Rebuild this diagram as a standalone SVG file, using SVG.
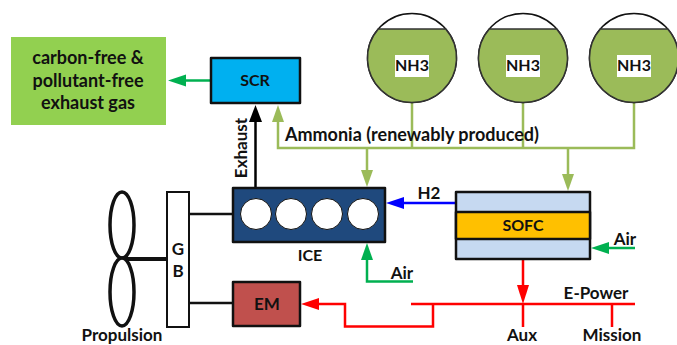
<svg xmlns="http://www.w3.org/2000/svg" width="677" height="345" viewBox="0 0 677 345">
<style>
text{font-family:Lato,"Open Sans","Liberation Sans",sans-serif;font-weight:700;fill:#111;font-size:17px;text-anchor:middle}
.lg{font-size:18px}
.sm{font-size:16px}
.b{stroke:#111;stroke-width:2.5;stroke-linejoin:round}
.c{fill:none;stroke-width:2.5}
.t{fill:#fff;stroke:#111;stroke-width:1.500}
.l{fill:#9BBB59;stroke:#333;stroke-width:1.500}
.ol{stroke:#9BBB59}.gr{stroke:#00B050}.rd{stroke:#FF0000}.bl{stroke:#0000FF}.k{stroke:#000}
</style>
<rect width="677" height="345" fill="#fff"/>
<g id="connectors">
<path class="c ol" d="M278 120V148H634V103M412 103V148M523 103V148M367 148V172M568 148V175"/>
<polygon points="278,105 272,122 284,122" fill="#9BBB59"/>
<polygon points="367,187 361,170 373,170" fill="#9BBB59"/>
<polygon points="568,191 562,174 574,174" fill="#9BBB59"/>
<path class="c gr" d="M211 80.500H182"/>
<polygon points="168,80.500 186,74.500 186,86.500" fill="#00B050"/>
<path class="c k" d="M255.500 188V120"/>
<polygon points="255.500,105 249,122 262,122" fill="#000"/>
<path class="c bl" d="M456 203H400"/>
<polygon points="386,203 404,197 404,209" fill="#0000FF"/>
<path class="c gr" d="M635 248H605"/>
<polygon points="591,248 609,242 609,254" fill="#00B050"/>
<path class="c gr" d="M367 258V281.500H413"/>
<polygon points="367,243 361,260 373,260" fill="#00B050"/>
<path class="c rd" d="M523 259V290M411 304H635M523 304V327M612 304V327M433 304V326.500H345V304H315"/>
<polygon points="523,304 517,285 529,285" fill="#FF0000"/>
<polygon points="301,304 319,298 319,310" fill="#FF0000"/>
<path class="c" stroke="#111" d="M189 214H233M189 303H233"/>
<path class="c" stroke="#111" style="stroke-width:4" d="M122 259H167"/>
</g>
<g id="exhaust-gas"><rect x="11" y="37" width="155" height="88" fill="#92D050"/><text class="lg" x="88" y="64">carbon-free &amp;</text><text class="lg" x="88" y="87">pollutant-free</text><text class="lg" x="88" y="109">exhaust gas</text></g>
<g id="scr"><rect class="b" x="211" y="58" width="89" height="45" fill="#00B0F0"/><text class="sm" x="255" y="86">SCR</text></g>
<g id="nh3-1"><circle class="t" cx="412" cy="58" r="44.500"/><path class="l" d="M378.300 29H445.700A44.500 44.500 0 1 1 378.300 29Z"/><rect x="395" y="55" width="34" height="22" fill="#fff"/><text class="sm" x="412" y="71">NH3</text></g>
<g id="nh3-2"><circle class="t" cx="523" cy="58" r="44.500"/><path class="l" d="M489.300 29H556.700A44.500 44.500 0 1 1 489.300 29Z"/><rect x="506" y="55" width="34" height="22" fill="#fff"/><text class="sm" x="523" y="71">NH3</text></g>
<g id="nh3-3"><circle class="t" cx="634" cy="58" r="44.500"/><path class="l" d="M600.300 29H667.700A44.500 44.500 0 1 1 600.300 29Z"/><rect x="617" y="55" width="34" height="22" fill="#fff"/><text class="sm" x="634" y="71">NH3</text></g>
<g id="ice"><rect class="b" x="233" y="188" width="152" height="54" fill="#1F497D"/>
<circle cx="256" cy="214" r="15.500" fill="#fff" stroke="#111"/><circle cx="291" cy="214" r="15.500" fill="#fff" stroke="#111"/><circle cx="327" cy="214" r="15.500" fill="#fff" stroke="#111"/><circle cx="363" cy="214" r="15.500" fill="#fff" stroke="#111"/><text class="sm" x="310" y="261">ICE</text></g>
<g id="sofc"><rect class="b" x="456" y="192" width="134" height="67" fill="#C6D9F1"/><rect class="b" x="456" y="212" width="134" height="27" fill="#FFC000"/><text class="sm" x="523" y="231">SOFC</text></g>
<g id="gb"><rect x="167" y="192" width="22" height="135" fill="#fff" stroke="#111" stroke-width="2"/><text x="178" y="255">G</text><text x="178" y="277">B</text></g>
<g id="em"><rect class="b" x="233" y="282" width="67" height="44" fill="#C0504D"/><text x="267" y="310">EM</text></g>
<g id="propeller"><ellipse cx="122" cy="225" rx="12" ry="33" fill="#fff" stroke="#111" stroke-width="3.500"/><ellipse cx="122" cy="292" rx="12" ry="34" fill="#fff" stroke="#111" stroke-width="3.500"/></g>
<g id="labels">
<text class="lg" x="412" y="141">Ammonia (renewably produced)</text>
<text transform="translate(247 148) rotate(-90)">Exhaust</text>
<text x="429" y="199">H2</text>
<text x="625" y="245">Air</text>
<text x="402" y="279">Air</text>
<text x="596" y="299">E-Power</text>
<text x="522" y="341">Aux</text>
<text x="612" y="341">Mission</text>
<text x="122" y="341">Propulsion</text>
</g>
</svg>
